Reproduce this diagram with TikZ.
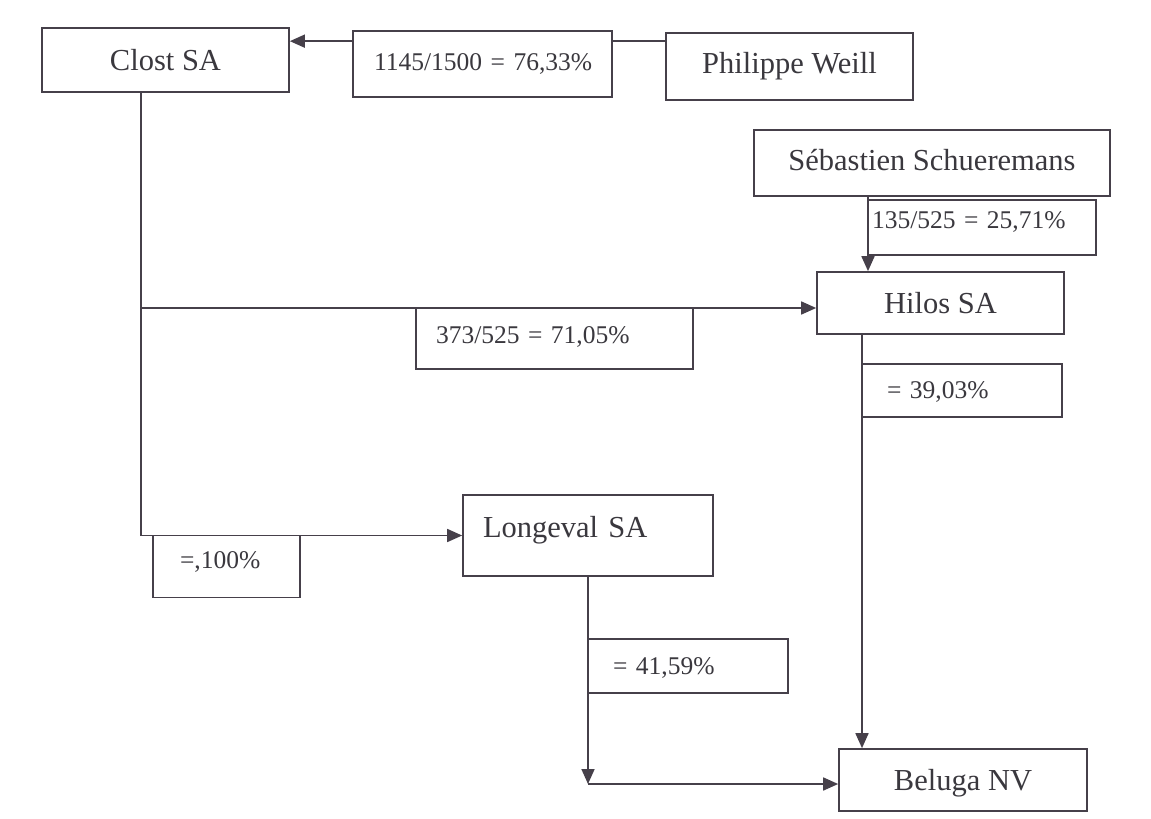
\documentclass[tikz,border=0pt]{standalone}
\usepackage{fontspec}
\setmainfont{Liberation Serif}
\usetikzlibrary{arrows.meta}
\definecolor{ln}{RGB}{70,64,74}
\definecolor{tx}{RGB}{58,56,62}
\begin{document}
\begin{tikzpicture}[x=1pt,y=-1pt,
  box/.style={draw=ln, line width=1.7pt, fill=white, text=tx, inner sep=0pt, text depth=0pt},
  ent/.style={box, font=\fontsize{30.5}{36}\selectfont, align=center, text height=20.2pt},
  lab/.style={box, font=\fontsize{25.5}{30}\selectfont, align=left, text height=16.9pt},
  arr/.style={draw=ln, line width=1.7pt, -{Triangle[length=15pt,width=13pt]}}
]
\useasboundingbox (0,0) rectangle (1151,819);
\fill[white] (0,0) rectangle (1151,819);

% entities
\node[ent, minimum width=247pt, minimum height=64pt, text depth=-3pt] (clost) at (165.5,60) {Clost SA};
\node[ent, minimum width=247pt, minimum height=67pt, text depth=7pt] (phil) at (789.5,66.5) {Philippe Weill};
\node[ent, minimum width=356pt, minimum height=66pt, text depth=6pt] (seb) at (932,163) {Sébastien Schueremans};
\node[ent, minimum width=247pt, minimum height=62pt] (hilos) at (940.5,303) {Hilos SA};
\node[ent, minimum width=250pt, minimum height=81pt, align=left, text width=210pt, inner xsep=20pt, text depth=17pt] (longeval) at (588,535.5) {\mbox{Longeval SA}};
\node[ent, minimum width=248pt, minimum height=62pt] (beluga) at (963,780) {Beluga NV};

% connectors
\coordinate (cv) at (141,0);
\coordinate (jH) at (141,308);
\coordinate (pw) at ([yshift=-9pt]phil.north west);
\coordinate (sx) at (868,0);
\coordinate (hx) at (862,0);
\coordinate (lc) at (588,784);

\draw[arr] (pw) -- (pw -| clost.east);
\draw[arr] (clost.south -| cv) |- (longeval.west);
\draw[arr] (jH) -- (jH -| hilos.west);
\draw[arr] (seb.south -| sx) -- (hilos.north -| sx);
\draw[arr] (hilos.south -| hx) -- (beluga.north -| hx);
\draw[arr] (longeval.south) -- (lc);
\draw[arr] (lc) -- (lc -| beluga.west);

% percentage labels
\node[lab, minimum width=259pt, minimum height=66pt, text width=217pt, inner xsep=21pt, text depth=4pt] (l1145) at (482.5,64) {\mbox{1145/1500 = 76,33\%}};
\node[lab, minimum width=228pt, minimum height=55pt, text width=220pt, inner xsep=4pt, text depth=15pt] (l135) at (982,227.5) {\mbox{135/525 = 25,71\%}};
\node[lab, minimum width=277pt, minimum height=61pt, text width=237pt, inner xsep=20pt, text depth=7pt] (l373) at (554.5,338.5) {\mbox{373/525 = 71,05\%}};
\node[lab, minimum width=200pt, minimum height=53pt, text width=150pt, inner xsep=25pt] (l39) at (962,390.5) {\mbox{= 39,03\%}};
\node[lab, minimum width=200pt, minimum height=54pt, text width=150pt, inner xsep=25pt] (l41) at (688,666) {\mbox{= 41,59\%}};
\node[lab, minimum width=147pt, minimum height=62pt, text width=93pt, inner xsep=27pt, text depth=13pt] (l100) at (226.5,566.5) {\mbox{=,100\%}};
\end{tikzpicture}
\end{document}
